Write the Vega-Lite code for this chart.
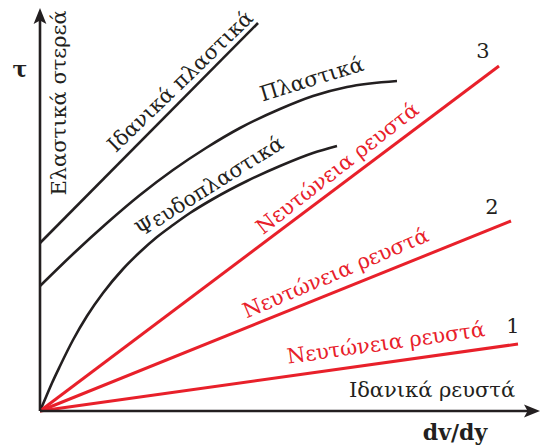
{
  "$schema": "https://vega.github.io/schema/vega-lite/v6.json",
  "width": 541,
  "height": 448,
  "autosize": "none",
  "padding": 0,
  "background": "white",
  "config": {"view": {"stroke": null}},
  "datasets": {
    "curves": [
      {"s": "Ιδανικά πλαστικά", "x": 0, "y": 168},
      {"s": "Ιδανικά πλαστικά", "x": 218, "y": 388},
      {"s": "Πλαστικά", "x": 0, "y": 125},
      {"s": "Πλαστικά", "x": 33, "y": 157},
      {"s": "Πλαστικά", "x": 67, "y": 188},
      {"s": "Πλαστικά", "x": 100, "y": 216},
      {"s": "Πλαστικά", "x": 133, "y": 241},
      {"s": "Πλαστικά", "x": 166, "y": 263},
      {"s": "Πλαστικά", "x": 200, "y": 283},
      {"s": "Πλαστικά", "x": 240, "y": 302},
      {"s": "Πλαστικά", "x": 273, "y": 315},
      {"s": "Πλαστικά", "x": 307, "y": 324},
      {"s": "Πλαστικά", "x": 357, "y": 330},
      {"s": "Ψευδοπλαστικά", "x": 0, "y": 0},
      {"s": "Ψευδοπλαστικά", "x": 6, "y": 14},
      {"s": "Ψευδοπλαστικά", "x": 12, "y": 28},
      {"s": "Ψευδοπλαστικά", "x": 20, "y": 45},
      {"s": "Ψευδοπλαστικά", "x": 33, "y": 71},
      {"s": "Ψευδοπλαστικά", "x": 47, "y": 95},
      {"s": "Ψευδοπλαστικά", "x": 63, "y": 118},
      {"s": "Ψευδοπλαστικά", "x": 83, "y": 142},
      {"s": "Ψευδοπλαστικά", "x": 100, "y": 159},
      {"s": "Ψευδοπλαστικά", "x": 117, "y": 174},
      {"s": "Ψευδοπλαστικά", "x": 133, "y": 186},
      {"s": "Ψευδοπλαστικά", "x": 150, "y": 198},
      {"s": "Ψευδοπλαστικά", "x": 173, "y": 212},
      {"s": "Ψευδοπλαστικά", "x": 207, "y": 230},
      {"s": "Ψευδοπλαστικά", "x": 240, "y": 245},
      {"s": "Ψευδοπλαστικά", "x": 273, "y": 258},
      {"s": "Ψευδοπλαστικά", "x": 297, "y": 265}
    ],
    "newton": [
      {"s": "3", "x": 0, "y": 0},
      {"s": "3", "x": 459, "y": 345},
      {"s": "2", "x": 0, "y": 0},
      {"s": "2", "x": 471, "y": 190},
      {"s": "1", "x": 0, "y": 0},
      {"s": "1", "x": 478, "y": 67}
    ]
  },
  "encoding": {
    "x": {"field": "x", "type": "quantitative", "axis": null, "scale": {"domain": [-40, 501], "nice": false, "zero": false}},
    "y": {"field": "y", "type": "quantitative", "axis": null, "scale": {"domain": [-37, 411], "nice": false, "zero": false}}
  },
  "layer": [
    {
      "data": {"name": "curves"},
      "mark": {"type": "line", "interpolate": "monotone", "color": "#231f20", "strokeWidth": 2.6},
      "encoding": {"detail": {"field": "s", "type": "nominal"}, "order": {"field": "x", "type": "quantitative"}}
    },
    {
      "data": {"name": "newton"},
      "mark": {"type": "line", "color": "#e8202a", "strokeWidth": 3},
      "encoding": {"detail": {"field": "s", "type": "nominal"}, "order": {"field": "x", "type": "quantitative"}}
    },
    {
      "data": {"values": [{"x": 0, "y": 0, "y2": 394}]},
      "mark": {"type": "rule", "color": "#231f20", "strokeWidth": 2.6},
      "encoding": {"y2": {"field": "y2"}}
    },
    {
      "data": {"values": [{"x": 0, "y": 0, "x2": 490}]},
      "mark": {"type": "rule", "color": "#231f20", "strokeWidth": 2.6},
      "encoding": {"x2": {"field": "x2"}}
    },
    {
      "data": {"values": [{"x": 0, "y": 395}]},
      "mark": {"type": "point", "filled": true, "opacity": 1, "color": "#231f20", "size": 256, "shape": "M0,-1L0.8,1L0,0.55L-0.8,1Z"}
    },
    {
      "data": {"values": [{"x": 492, "y": 0}]},
      "mark": {"type": "point", "filled": true, "opacity": 1, "color": "#231f20", "size": 256, "shape": "M1,0L-1,0.8L-0.55,0L-1,-0.8Z"}
    },
    {
      "data": {"values": [{"x": 20, "y": 308, "t": "Ελαστικά στερεά"}]},
      "mark": {"type": "text", "font": "DejaVu Serif", "fontSize": 21, "color": "#231f20", "angle": -90, "align": "center", "baseline": "middle"},
      "encoding": {"text": {"field": "t"}}
    },
    {
      "data": {"values": [{"x": 141, "y": 329, "t": "Ιδανικά πλαστικά"}]},
      "mark": {"type": "text", "font": "DejaVu Serif", "fontSize": 21, "color": "#231f20", "angle": -44, "align": "center", "baseline": "middle"},
      "encoding": {"text": {"field": "t"}}
    },
    {
      "data": {"values": [{"x": 272, "y": 331, "t": "Πλαστικά"}]},
      "mark": {"type": "text", "font": "DejaVu Serif", "fontSize": 21, "color": "#231f20", "angle": -17, "align": "center", "baseline": "middle"},
      "encoding": {"text": {"field": "t"}}
    },
    {
      "data": {"values": [{"x": 170, "y": 224, "t": "Ψευδοπλαστικά"}]},
      "mark": {"type": "text", "font": "DejaVu Serif", "fontSize": 21, "color": "#231f20", "angle": -32, "align": "center", "baseline": "middle"},
      "encoding": {"text": {"field": "t"}}
    },
    {
      "data": {"values": [{"x": 298, "y": 242, "t": "Νευτώνεια ρευστά"}]},
      "mark": {"type": "text", "font": "DejaVu Serif", "fontSize": 21, "color": "#e8202a", "angle": -38, "align": "center", "baseline": "middle"},
      "encoding": {"text": {"field": "t"}}
    },
    {
      "data": {"values": [{"x": 296, "y": 137, "t": "Νευτώνεια ρευστά"}]},
      "mark": {"type": "text", "font": "DejaVu Serif", "fontSize": 21, "color": "#e8202a", "angle": -23, "align": "center", "baseline": "middle"},
      "encoding": {"text": {"field": "t"}}
    },
    {
      "data": {"values": [{"x": 346, "y": 67, "t": "Νευτώνεια ρευστά"}]},
      "mark": {"type": "text", "font": "DejaVu Serif", "fontSize": 21, "color": "#e8202a", "angle": -8, "align": "center", "baseline": "middle"},
      "encoding": {"text": {"field": "t"}}
    },
    {
      "data": {"values": [{"x": 443, "y": 359, "t": "3"}, {"x": 452, "y": 203, "t": "2"}, {"x": 473, "y": 84, "t": "1"}, {"x": 392, "y": 20, "t": "Ιδανικά ρευστά"}]},
      "mark": {"type": "text", "font": "DejaVu Serif", "fontSize": 21, "color": "#231f20", "align": "center", "baseline": "middle"},
      "encoding": {"text": {"field": "t"}}
    },
    {
      "data": {"values": [{"x": 415, "y": -22, "t": "dv/dy"}, {"x": -20, "y": 341, "t": "τ"}]},
      "mark": {"type": "text", "font": "DejaVu Serif", "fontSize": 22, "fontWeight": "bold", "color": "#231f20", "align": "center", "baseline": "middle"},
      "encoding": {"text": {"field": "t"}}
    }
  ]
}
